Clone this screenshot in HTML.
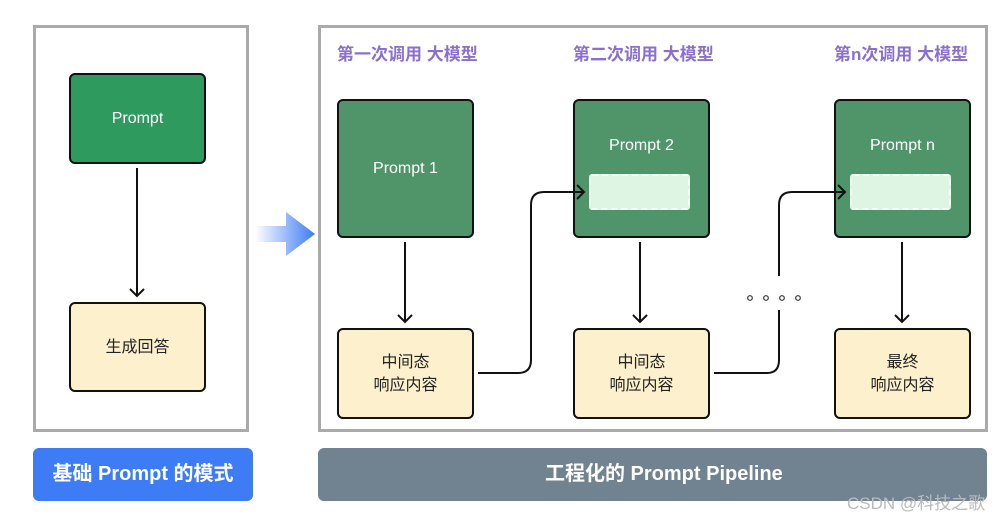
<!DOCTYPE html>
<html><head><meta charset="utf-8"><style>
body{margin:0;width:1003px;height:519px;background:#fff;position:relative;overflow:hidden;font-family:"Liberation Sans","Noto Sans CJK SC",sans-serif}
.a{position:absolute;box-sizing:border-box}
.panel{border:3px solid #aaa}
.g{background:#50956a;border:2px solid #111;border-radius:6px;color:#fff;font-size:16px;text-align:center}
.y{background:#fdf0cd;border:2px solid #111;border-radius:6px;color:#222;font-size:16px;text-align:center;display:flex;align-items:center;justify-content:center;line-height:23px}
.h{color:#8a6fd0;font-weight:bold;font-size:17px}
.d{background:#def5e3;border:2px dashed #f4fff6;border-radius:3px}
</style></head><body>
<div class="a panel" style="left:33px;top:25px;width:216px;height:407px"></div>
<div class="a panel" style="left:318px;top:25px;width:670px;height:407px"></div>
<div class="a g" style="left:69px;top:73px;width:137px;height:91px;background:#2e9a5e;line-height:87px">Prompt</div>
<div class="a y" style="left:69px;top:302px;width:137px;height:90px">生成回答</div>
<div class="a h" style="left:337px;top:40px">第一次调用 大模型</div>
<div class="a h" style="left:573px;top:40px">第二次调用 大模型</div>
<div class="a h" style="left:834px;top:40px">第n次调用 大模型</div>
<div class="a g" style="left:337px;top:99px;width:137px;height:139px;line-height:135px">Prompt 1</div>
<div class="a g" style="left:573px;top:99px;width:137px;height:139px;padding-top:36px">Prompt 2</div>
<div class="a g" style="left:834px;top:99px;width:137px;height:139px;padding-top:36px">Prompt n</div>
<div class="a d" style="left:589px;top:174px;width:101px;height:36px"></div>
<div class="a d" style="left:850px;top:174px;width:101px;height:36px"></div>
<div class="a y" style="left:337px;top:328px;width:137px;height:91px">中间态<br>响应内容</div>
<div class="a y" style="left:573px;top:328px;width:137px;height:91px">中间态<br>响应内容</div>
<div class="a y" style="left:834px;top:328px;width:137px;height:91px">最终<br>响应内容</div>
<svg class="a" style="left:0;top:0" width="1003" height="519">
<defs><linearGradient id="bg" x1="0" x2="1"><stop offset="0" stop-color="#3d7cf5" stop-opacity="0"/><stop offset="1" stop-color="#3d7cf5"/></linearGradient></defs>
<path d="M255 226H286V212L315 234L286 256V242H255Z" fill="url(#bg)"/>
<g stroke="#111" stroke-width="2" fill="none">
<path d="M137 168V296M130 289L137 296L144 289"/>
<path d="M405 242V322M398 315L405 322L412 315"/>
<path d="M640 242V322M633 315L640 322L647 315"/>
<path d="M902 242V322M895 315L902 322L909 315"/>
<path d="M478 373H518Q531 373 531 360V205Q531 192 544 192H584M577 185L584 192L577 199"/>
<path d="M714 373H767Q779 373 779 360V310M779 276V205Q779 192 792 192H845M838 185L845 192L838 199"/>
</g>
<g stroke="#333" stroke-width="1.2" fill="none"><circle cx="750" cy="298" r="2.3"/><circle cx="766" cy="298" r="2.3"/><circle cx="782" cy="298" r="2.3"/><circle cx="798" cy="298" r="2.3"/></g>
</svg>
<div class="a" style="left:33px;top:448px;width:220px;height:53px;background:#3d7cf5;border-radius:6px;color:#fff;font-weight:bold;font-size:20px;line-height:53px;text-align:center">基础 Prompt 的模式</div>
<div class="a" style="left:318px;top:448px;width:669px;height:53px;background:#718291;border-radius:6px;color:#fff;font-weight:bold;font-size:20px;line-height:53px;padding-left:227px">工程化的 Prompt Pipeline</div>
<div class="a" style="left:847px;top:489px;color:#bbb;font-size:17px">CSDN @科技之歌</div>
</body></html>
